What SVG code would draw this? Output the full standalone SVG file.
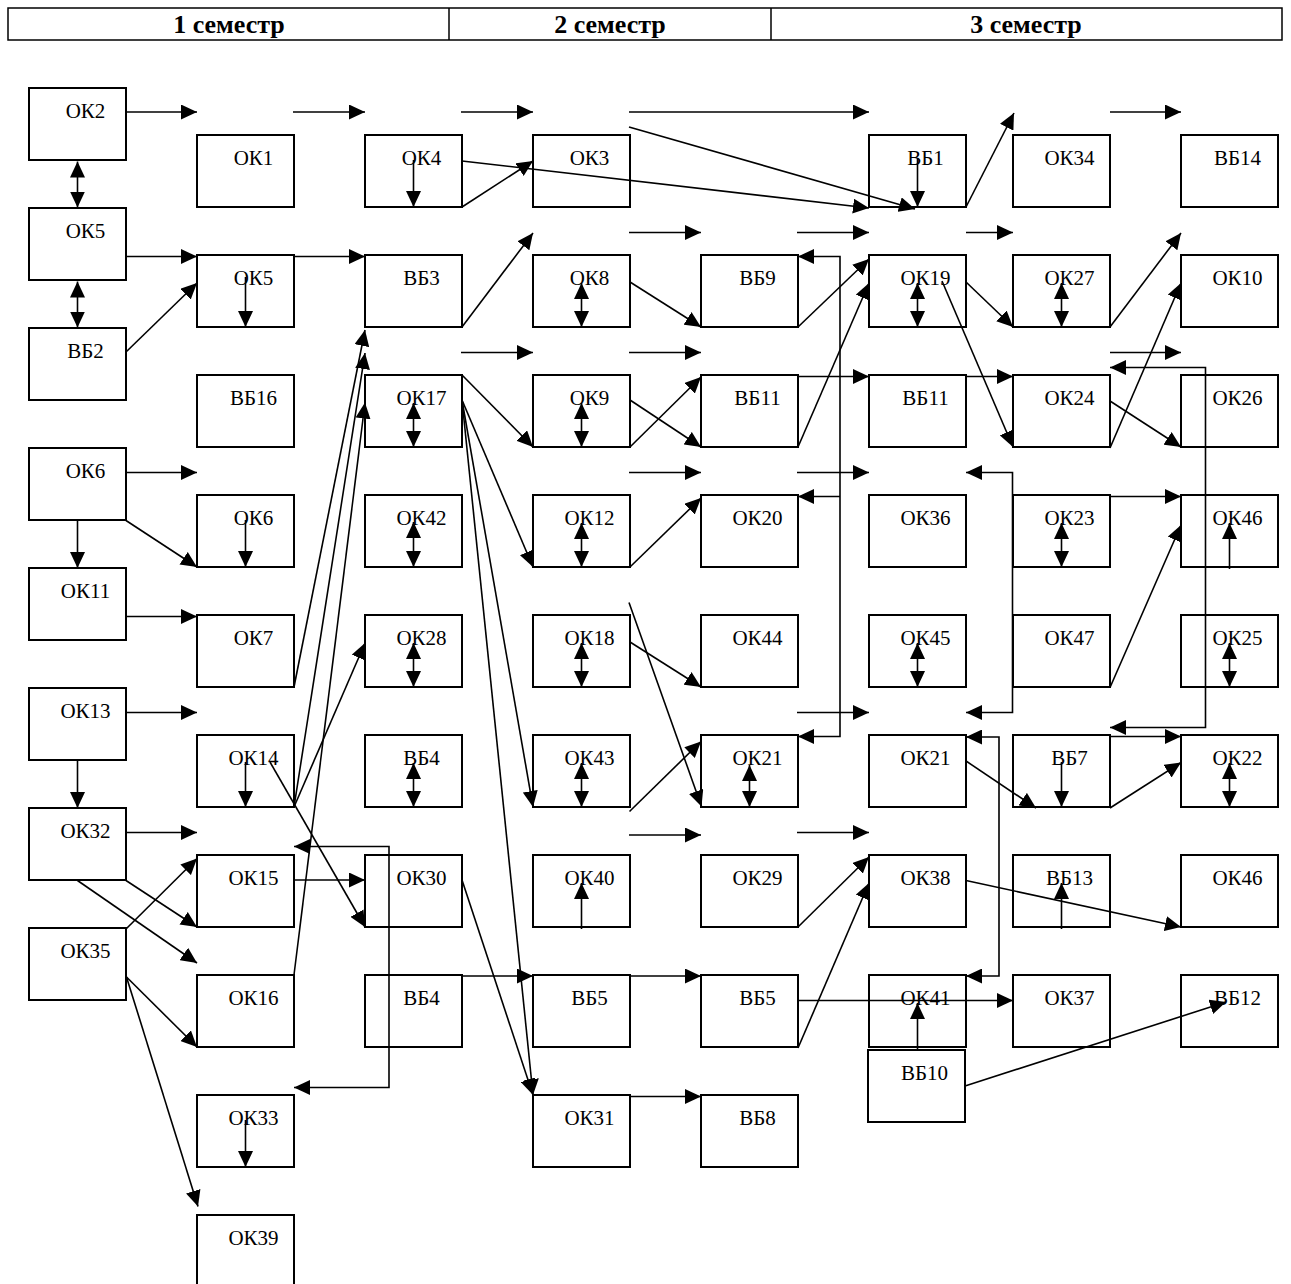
<svg xmlns="http://www.w3.org/2000/svg" width="1291" height="1284" viewBox="0 0 1291 1284">
<style>
.bx{fill:#fff;stroke:#000;stroke-width:2}
.t{font-family:"Liberation Serif","Times New Roman",serif;font-size:21px;text-anchor:middle;fill:#000}
.h{font-family:"Liberation Serif","Times New Roman",serif;font-size:26px;font-weight:bold;text-anchor:middle;fill:#000}
.hl{fill:none;stroke:#000;stroke-width:1.5}
.c{fill:none;stroke:#000;stroke-width:1.6;marker-end:url(#a)}
.n{fill:none;stroke:#000;stroke-width:1.6}
.d{marker-start:url(#a)}
</style>
<defs>
<marker id="a" markerUnits="userSpaceOnUse" markerWidth="16" markerHeight="15" refX="16" refY="7.5" orient="auto-start-reverse"><path d="M0,0 L16,7.5 L0,15 z" fill="#000"/></marker>
</defs>
<rect width="1291" height="1284" fill="#fff"/>
<g id="header">
<rect class="hl" x="8" y="8" width="1274" height="32"/>
<line class="hl" x1="449" y1="8" x2="449" y2="40"/>
<line class="hl" x1="771" y1="8" x2="771" y2="40"/>
<text class="h" x="229" y="33">1 семестр</text>
<text class="h" x="610" y="33">2 семестр</text>
<text class="h" x="1026" y="33">3 семестр</text>
</g>
<!-- column 1 -->
<g id="c1-ok2"><rect class="bx" x="29" y="88" width="97" height="72"/><text class="t" x="85.5" y="118">ОК2</text></g>
<g id="c1-ok5"><rect class="bx" x="29" y="208" width="97" height="72"/><text class="t" x="85.5" y="238">ОК5</text></g>
<g id="c1-vb2"><rect class="bx" x="29" y="328" width="97" height="72"/><text class="t" x="85.5" y="358">ВБ2</text></g>
<g id="c1-ok6"><rect class="bx" x="29" y="448" width="97" height="72"/><text class="t" x="85.5" y="478">ОК6</text></g>
<g id="c1-ok11"><rect class="bx" x="29" y="568" width="97" height="72"/><text class="t" x="85.5" y="598">ОК11</text></g>
<g id="c1-ok13"><rect class="bx" x="29" y="688" width="97" height="72"/><text class="t" x="85.5" y="718">ОК13</text></g>
<g id="c1-ok32"><rect class="bx" x="29" y="808" width="97" height="72"/><text class="t" x="85.5" y="838">ОК32</text></g>
<g id="c1-ok35"><rect class="bx" x="29" y="928" width="97" height="72"/><text class="t" x="85.5" y="958">ОК35</text></g>
<!-- column 2 -->
<g id="c2-ok1"><rect class="bx" x="197" y="135" width="97" height="72"/><text class="t" x="253.5" y="165">ОК1</text></g>
<g id="c2-ok5"><rect class="bx" x="197" y="255" width="97" height="72"/><text class="t" x="253.5" y="285">ОК5</text></g>
<g id="c2-vb16"><rect class="bx" x="197" y="375" width="97" height="72"/><text class="t" x="253.5" y="405">ВБ16</text></g>
<g id="c2-ok6"><rect class="bx" x="197" y="495" width="97" height="72"/><text class="t" x="253.5" y="525">ОК6</text></g>
<g id="c2-ok7"><rect class="bx" x="197" y="615" width="97" height="72"/><text class="t" x="253.5" y="645">ОК7</text></g>
<g id="c2-ok14"><rect class="bx" x="197" y="735" width="97" height="72"/><text class="t" x="253.5" y="765">ОК14</text></g>
<g id="c2-ok15"><rect class="bx" x="197" y="855" width="97" height="72"/><text class="t" x="253.5" y="885">ОК15</text></g>
<g id="c2-ok16"><rect class="bx" x="197" y="975" width="97" height="72"/><text class="t" x="253.5" y="1005">ОК16</text></g>
<g id="c2-ok33"><rect class="bx" x="197" y="1095" width="97" height="72"/><text class="t" x="253.5" y="1125">ОК33</text></g>
<g id="c2-ok39"><rect class="bx" x="197" y="1215" width="97" height="72"/><text class="t" x="253.5" y="1245">ОК39</text></g>
<!-- column 3 -->
<g id="c3-ok4"><rect class="bx" x="365" y="135" width="97" height="72"/><text class="t" x="421.5" y="165">ОК4</text></g>
<g id="c3-vb3"><rect class="bx" x="365" y="255" width="97" height="72"/><text class="t" x="421.5" y="285">ВБ3</text></g>
<g id="c3-ok17"><rect class="bx" x="365" y="375" width="97" height="72"/><text class="t" x="421.5" y="405">ОК17</text></g>
<g id="c3-ok42"><rect class="bx" x="365" y="495" width="97" height="72"/><text class="t" x="421.5" y="525">ОК42</text></g>
<g id="c3-ok28"><rect class="bx" x="365" y="615" width="97" height="72"/><text class="t" x="421.5" y="645">ОК28</text></g>
<g id="c3-vb4a"><rect class="bx" x="365" y="735" width="97" height="72"/><text class="t" x="421.5" y="765">ВБ4</text></g>
<g id="c3-ok30"><rect class="bx" x="365" y="855" width="97" height="72"/><text class="t" x="421.5" y="885">ОК30</text></g>
<g id="c3-vb4b"><rect class="bx" x="365" y="975" width="97" height="72"/><text class="t" x="421.5" y="1005">ВБ4</text></g>
<!-- column 4 -->
<g id="c4-ok3"><rect class="bx" x="533" y="135" width="97" height="72"/><text class="t" x="589.5" y="165">ОК3</text></g>
<g id="c4-ok8"><rect class="bx" x="533" y="255" width="97" height="72"/><text class="t" x="589.5" y="285">ОК8</text></g>
<g id="c4-ok9"><rect class="bx" x="533" y="375" width="97" height="72"/><text class="t" x="589.5" y="405">ОК9</text></g>
<g id="c4-ok12"><rect class="bx" x="533" y="495" width="97" height="72"/><text class="t" x="589.5" y="525">ОК12</text></g>
<g id="c4-ok18"><rect class="bx" x="533" y="615" width="97" height="72"/><text class="t" x="589.5" y="645">ОК18</text></g>
<g id="c4-ok43"><rect class="bx" x="533" y="735" width="97" height="72"/><text class="t" x="589.5" y="765">ОК43</text></g>
<g id="c4-ok40"><rect class="bx" x="533" y="855" width="97" height="72"/><text class="t" x="589.5" y="885">ОК40</text></g>
<g id="c4-vb5"><rect class="bx" x="533" y="975" width="97" height="72"/><text class="t" x="589.5" y="1005">ВБ5</text></g>
<g id="c4-ok31"><rect class="bx" x="533" y="1095" width="97" height="72"/><text class="t" x="589.5" y="1125">ОК31</text></g>
<!-- column 5 -->
<g id="c5-vb9"><rect class="bx" x="701" y="255" width="97" height="72"/><text class="t" x="757.5" y="285">ВБ9</text></g>
<g id="c5-vb11"><rect class="bx" x="701" y="375" width="97" height="72"/><text class="t" x="757.5" y="405">ВБ11</text></g>
<g id="c5-ok20"><rect class="bx" x="701" y="495" width="97" height="72"/><text class="t" x="757.5" y="525">ОК20</text></g>
<g id="c5-ok44"><rect class="bx" x="701" y="615" width="97" height="72"/><text class="t" x="757.5" y="645">ОК44</text></g>
<g id="c5-ok21"><rect class="bx" x="701" y="735" width="97" height="72"/><text class="t" x="757.5" y="765">ОК21</text></g>
<g id="c5-ok29"><rect class="bx" x="701" y="855" width="97" height="72"/><text class="t" x="757.5" y="885">ОК29</text></g>
<g id="c5-vb5"><rect class="bx" x="701" y="975" width="97" height="72"/><text class="t" x="757.5" y="1005">ВБ5</text></g>
<g id="c5-vb8"><rect class="bx" x="701" y="1095" width="97" height="72"/><text class="t" x="757.5" y="1125">ВБ8</text></g>
<!-- column 6 -->
<g id="c6-vb1"><rect class="bx" x="869" y="135" width="97" height="72"/><text class="t" x="925.5" y="165">ВБ1</text></g>
<g id="c6-ok19"><rect class="bx" x="869" y="255" width="97" height="72"/><text class="t" x="925.5" y="285">ОК19</text></g>
<g id="c6-vb11"><rect class="bx" x="869" y="375" width="97" height="72"/><text class="t" x="925.5" y="405">ВБ11</text></g>
<g id="c6-ok36"><rect class="bx" x="869" y="495" width="97" height="72"/><text class="t" x="925.5" y="525">ОК36</text></g>
<g id="c6-ok45"><rect class="bx" x="869" y="615" width="97" height="72"/><text class="t" x="925.5" y="645">ОК45</text></g>
<g id="c6-ok21"><rect class="bx" x="869" y="735" width="97" height="72"/><text class="t" x="925.5" y="765">ОК21</text></g>
<g id="c6-ok38"><rect class="bx" x="869" y="855" width="97" height="72"/><text class="t" x="925.5" y="885">ОК38</text></g>
<g id="c6-ok41"><rect class="bx" x="869" y="975" width="97" height="72"/><text class="t" x="925.5" y="1005">ОК41</text></g>
<g id="c6-vb10"><rect class="bx" x="868" y="1050" width="97" height="72"/><text class="t" x="924.5" y="1080">ВБ10</text></g>
<!-- column 7 -->
<g id="c7-ok34"><rect class="bx" x="1013" y="135" width="97" height="72"/><text class="t" x="1069.5" y="165">ОК34</text></g>
<g id="c7-ok27"><rect class="bx" x="1013" y="255" width="97" height="72"/><text class="t" x="1069.5" y="285">ОК27</text></g>
<g id="c7-ok24"><rect class="bx" x="1013" y="375" width="97" height="72"/><text class="t" x="1069.5" y="405">ОК24</text></g>
<g id="c7-ok23"><rect class="bx" x="1013" y="495" width="97" height="72"/><text class="t" x="1069.5" y="525">ОК23</text></g>
<g id="c7-ok47"><rect class="bx" x="1013" y="615" width="97" height="72"/><text class="t" x="1069.5" y="645">ОК47</text></g>
<g id="c7-vb7"><rect class="bx" x="1013" y="735" width="97" height="72"/><text class="t" x="1069.5" y="765">ВБ7</text></g>
<g id="c7-vb13"><rect class="bx" x="1013" y="855" width="97" height="72"/><text class="t" x="1069.5" y="885">ВБ13</text></g>
<g id="c7-ok37"><rect class="bx" x="1013" y="975" width="97" height="72"/><text class="t" x="1069.5" y="1005">ОК37</text></g>
<!-- column 8 -->
<g id="c8-vb14"><rect class="bx" x="1181" y="135" width="97" height="72"/><text class="t" x="1237.5" y="165">ВБ14</text></g>
<g id="c8-ok10"><rect class="bx" x="1181" y="255" width="97" height="72"/><text class="t" x="1237.5" y="285">ОК10</text></g>
<g id="c8-ok26"><rect class="bx" x="1181" y="375" width="97" height="72"/><text class="t" x="1237.5" y="405">ОК26</text></g>
<g id="c8-ok46a"><rect class="bx" x="1181" y="495" width="97" height="72"/><text class="t" x="1237.5" y="525">ОК46</text></g>
<g id="c8-ok25"><rect class="bx" x="1181" y="615" width="97" height="72"/><text class="t" x="1237.5" y="645">ОК25</text></g>
<g id="c8-ok22"><rect class="bx" x="1181" y="735" width="97" height="72"/><text class="t" x="1237.5" y="765">ОК22</text></g>
<g id="c8-ok46b"><rect class="bx" x="1181" y="855" width="97" height="72"/><text class="t" x="1237.5" y="885">ОК46</text></g>
<g id="c8-vb12"><rect class="bx" x="1181" y="975" width="97" height="72"/><text class="t" x="1237.5" y="1005">ВБ12</text></g>
<g id="connectors">
<!-- row 1 -->
<path class="c" d="M126,112 H197"/>
<path class="c" d="M293,112 H365"/>
<path class="c" d="M461,112 H533"/>
<path class="c" d="M629,112 H869"/>
<path class="c" d="M629,127 L915,209"/>
<path class="c" d="M462,161 L869,208"/>
<path class="c" d="M462,207 L533,161"/>
<path class="c" d="M413.5,160 V207"/>
<path class="c" d="M917.5,158 V207"/>
<path class="c" d="M966,207 L1014,113"/>
<path class="c" d="M1110,112 H1181"/>
<path class="c d" d="M77.5,161.5 V207.5"/>
<path class="c d" d="M77.5,281.5 V327.5"/>
<!-- row 2 -->
<path class="c" d="M126,256.5 H197"/>
<path class="c" d="M294,256.5 H365"/>
<path class="c" d="M126,352 L197,283"/>
<path class="c" d="M245.5,277 V327"/>
<path class="c" d="M462,327 L533,233"/>
<path class="c" d="M629,232.5 H701"/>
<path class="c" d="M797,232.5 H869"/>
<path class="c" d="M966,232.5 H1013"/>
<path class="c d" d="M581.5,283 V327"/>
<path class="c" d="M630,282 L701,327"/>
<path class="c d" d="M798,256.5 H840 V736.5 H798"/>
<path class="c" d="M840,496.5 H798"/>
<path class="c" d="M798,327 L869,259"/>
<path class="c" d="M798,447 L869,283"/>
<path class="c d" d="M917.5,283 V327"/>
<path class="c" d="M942,281 L1013,447"/>
<path class="c" d="M966,282 L1013,327"/>
<path class="c d" d="M1061.5,283 V327"/>
<path class="c" d="M1110,327 L1181,233"/>
<path class="c" d="M1110,448 L1181,283"/>
<!-- row 3 -->
<path class="c" d="M461,352.5 H533"/>
<path class="c" d="M629,352.5 H701"/>
<path class="c" d="M1110,352.5 H1181"/>
<path class="c d" d="M1110,367.5 H1205.5 V727.5 H1110"/>
<path class="c d" d="M413.5,403 V447"/>
<path class="c" d="M462,375 L533,447"/>
<path class="c" d="M462,400 L533,567"/>
<path class="c" d="M462,400 L533,807"/>
<path class="c" d="M462,400 L533,1095"/>
<path class="c d" d="M581.5,403 V447"/>
<path class="c" d="M630,400 L701,447"/>
<path class="c" d="M630,447 L701,377"/>
<path class="c" d="M798,376.5 H869"/>
<path class="c" d="M966,376.5 H1013"/>
<path class="c" d="M1110,401 L1181,447"/>
<!-- row 4 -->
<path class="c" d="M126,472.5 H197"/>
<path class="c" d="M126,520.5 L197,567"/>
<path class="c" d="M77.5,520.5 V568"/>
<path class="c" d="M245.5,520 V567"/>
<path class="c d" d="M413.5,522 V567"/>
<path class="c d" d="M581.5,523 V567"/>
<path class="c" d="M630,567 L701,498"/>
<path class="c" d="M629,472.5 H701"/>
<path class="c" d="M797,472.5 H869"/>
<path class="c d" d="M966,472.5 H1012.5 V712.5 H966"/>
<path class="c" d="M1110,496.5 H1181"/>
<path class="c d" d="M1061.5,523 V567"/>
<path class="c" d="M1229.5,569 V523"/>
<path class="c" d="M1110,687.5 L1181,525"/>
<!-- row 5 -->
<path class="c" d="M126,616.5 H197"/>
<path class="c" d="M294,687 L365,330"/>
<path class="c" d="M294,807 L365,353"/>
<path class="c" d="M294,975 L365,402.5"/>
<path class="c" d="M294,807 L365,643"/>
<path class="c d" d="M413.5,643 V687"/>
<path class="c d" d="M581.5,643 V687"/>
<path class="c" d="M630,642 L701,687"/>
<path class="c" d="M629,602.5 L701.5,806.5"/>
<path class="c d" d="M917.5,643 V687"/>
<path class="c d" d="M1229.5,643 V687"/>
<!-- row 6 -->
<path class="c" d="M126,712.5 H197"/>
<path class="c" d="M77.5,760.5 V808"/>
<path class="c" d="M245.5,762 V807"/>
<path class="c" d="M270,762 L365,927"/>
<path class="c d" d="M413.5,763 V807"/>
<path class="c d" d="M581.5,763 V807"/>
<path class="c" d="M629.5,811.5 L701,741.5"/>
<path class="c d" d="M749.5,765 V807"/>
<path class="c" d="M797,712.5 H869"/>
<path class="c d" d="M966,737 H999 V976 H966"/>
<path class="c" d="M966,761 L1036,808"/>
<path class="c" d="M1061.5,762 V807"/>
<path class="c" d="M1110,736.5 H1181"/>
<path class="c" d="M1110,808 L1181,762.5"/>
<path class="c d" d="M1229.5,763 V807"/>
<!-- row 7 -->
<path class="c" d="M126,832.5 H197"/>
<path class="c" d="M126,880.5 L197,927"/>
<path class="c" d="M77.5,880.5 L197,963"/>
<path class="c" d="M126,929 L197,858.5"/>
<path class="c" d="M126,976.5 L197,1047"/>
<path class="c" d="M126.5,977 L198,1206.5"/>
<path class="c" d="M294,880 H365"/>
<path class="c d" d="M294,846.5 H389 V1087.5 H294"/>
<path class="c" d="M581.5,929 V883"/>
<path class="c" d="M629,835 H701"/>
<path class="c" d="M797,832.5 H869"/>
<path class="c" d="M798,927 L869,857"/>
<path class="c" d="M798,1048 L869,883"/>
<path class="c" d="M966,880.5 L1181,927"/>
<path class="c" d="M1061.5,929 V883"/>
<path class="c" d="M462,880 L533,1095"/>
<!-- row 8 -->
<path class="c" d="M462,976 H533"/>
<path class="c" d="M630,976 H701"/>
<path class="c" d="M798,1000.5 H1013"/>
<path class="c" d="M917.5,1050 V1003"/>
<path class="c" d="M965,1086 L1226,1002"/>
<path class="c" d="M630,1096.5 H701"/>
<path class="c" d="M245.5,1120 V1167"/>
</g>
</svg>
